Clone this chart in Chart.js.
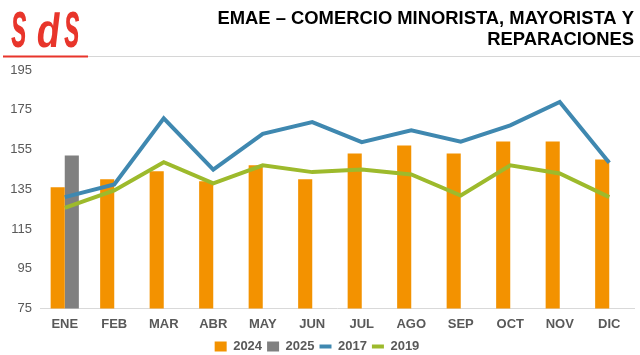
<!DOCTYPE html>
<html>
<head>
<meta charset="utf-8">
<script src="https://cdn.jsdelivr.net/npm/chart.js@4/dist/chart.umd.min.js"></script>
<style>
html,body{margin:0;padding:0;background:#fff;}
#wrap{position:relative;width:640px;height:355px;}
canvas{display:block;}
</style>
</head>
<body>
<div id="wrap"><canvas id="c" width="640" height="355"></canvas></div>
<script>
const categories = ["ENE","FEB","MAR","ABR","MAY","JUN","JUL","AGO","SEP","OCT","NOV","DIC"];
const series2024 = [136,140,144,139,147,140,153,157,153,159,159,150];
const series2025 = [152,null,null,null,null,null,null,null,null,null,null,null];
const series2017 = [131,137.4,170.7,144.9,162.9,168.8,158.7,164.6,158.9,167.1,178.9,148.3];
const series2019 = [125.6,134.4,148.6,137.9,147,143.6,144.9,142.4,131.8,147,142.9,131];
const yTicks = [75,95,115,135,155,175,195];
const titleLines = ["EMAE – COMERCIO MINORISTA, MAYORISTA Y","REPARACIONES"];
const logoLetters = ["s","d","s"];

const headerPlugin = {
  id: 'header',
  afterLayout(chart) {
    const lg = chart.legend;
    if (lg) { lg.top -= 5; lg.bottom -= 5; }
  },
  afterDraw(chart) {
    const ctx = chart.ctx;
    ctx.save();
    // logo: stretched, slanted letters
    ctx.fillStyle = '#E8352B';
    ctx.textBaseline = 'alphabetic';
    ctx.textAlign = 'left';
    const xs = [11, 35, 64];
    logoLetters.forEach((ch, i) => {
      ctx.save();
      ctx.translate(xs[i], 47);
      if (ch === 's') {
        ctx.font = 'bold italic 34px "Liberation Sans", Arial, sans-serif';
        ctx.scale(0.85, 1.95);
      } else {
        ctx.font = 'bold 48px "Liberation Sans", Arial, sans-serif';
        ctx.transform(1, 0, -0.12, 1, 0, 0);
        ctx.scale(0.8, 1.0);
      }
      ctx.fillText(ch, 0, 0);
      ctx.restore();
    });
    // lines
    ctx.fillStyle = '#d6d6d6';
    ctx.fillRect(88, 56, 552, 1);
    ctx.fillStyle = '#E8352B';
    ctx.fillRect(3, 55.5, 85, 2);
    // title
    ctx.fillStyle = '#000';
    ctx.font = 'bold 18.4px "Liberation Sans", Arial, sans-serif';
    ctx.textAlign = 'right';
    ctx.textBaseline = 'middle';
    ctx.fillText(titleLines[0], 634, 18.5);
    ctx.fillText(titleLines[1], 634, 40);
    ctx.restore();
  }
};

new Chart(document.getElementById('c'), {
  data: {
    labels: categories,
    datasets: [
      {type:'bar', label:'2024', data:series2024, backgroundColor:'#F39200', order:2, pointStyle:'rect'},
      {type:'bar', label:'2025', data:series2025, backgroundColor:'#808080', order:2, pointStyle:'rect'},
      {type:'line', label:'2017', data:series2017, borderColor:'#3F88B0', backgroundColor:'#3F88B0', borderWidth:4, pointRadius:0, tension:0, order:1, pointStyle:'line'},
      {type:'line', label:'2019', data:series2019, borderColor:'#9DBA2C', backgroundColor:'#9DBA2C', borderWidth:4, pointRadius:0, tension:0, order:1, pointStyle:'line'}
    ]
  },
  options: {
    responsive:false,
    animation:false,
    devicePixelRatio:1,
    categoryPercentage:0.57,
    barPercentage:1,
    layout:{padding:{top:70,right:6,left:0,bottom:-13}},
    plugins:{
      legend:{
        position:'bottom',
        labels:{
          usePointStyle:true,
          pointStyleWidth:12,
          boxHeight:10,
          padding:5,
          color:'#595959',
          font:{family:'"Liberation Sans", Arial, sans-serif', size:13, weight:'bold'},
          sort:(a,b)=>a.datasetIndex-b.datasetIndex
        }
      },
      tooltip:{enabled:false}
    },
    scales:{
      x:{
        grid:{display:false, drawTicks:false},
        border:{display:true, color:'#d9d9d9', width:1},
        ticks:{color:'#595959', padding:8, font:{family:'"Liberation Sans", Arial, sans-serif', size:13, weight:'bold'}}
      },
      y:{
        min:75, max:195,
        afterFit:(s)=>{s.width=40;},
        afterBuildTicks:(s)=>{s.ticks = yTicks.map(v=>({value:v}));},
        grid:{display:false, drawTicks:false},
        border:{display:false},
        ticks:{color:'#595959', padding:8, font:{family:'"Liberation Sans", Arial, sans-serif', size:13}}
      }
    }
  },
  plugins:[headerPlugin]
});
</script>
</body>
</html>
